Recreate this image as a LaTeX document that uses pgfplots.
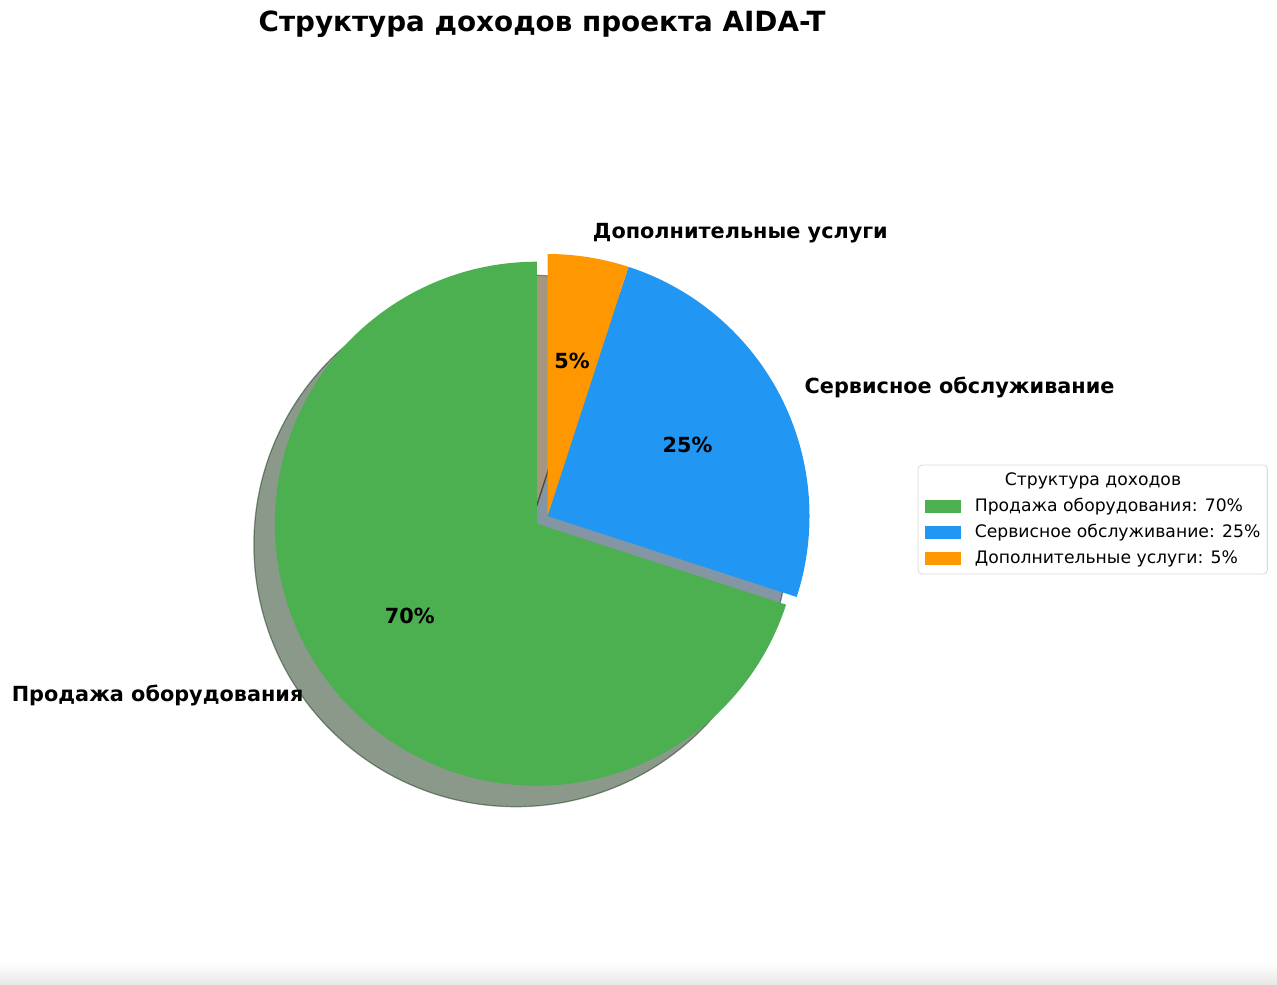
\documentclass[border=0pt]{standalone}
\usepackage{pgfplots}
\pgfplotsset{compat=1.18}
\usepackage{pgfplotstable}
\usepackage{fontspec}
\setmainfont{DejaVu Sans}

\definecolor{cgreen}{HTML}{4CAF50}
\definecolor{cblue}{HTML}{2196F3}
\definecolor{corange}{HTML}{FF9800}
% shadow colours: 0.3 * face colour
\definecolor{sgreen}{RGB}{23,52,24}
\definecolor{sblue}{RGB}{10,45,73}
\definecolor{sorange}{RGB}{76,46,0}

\pgfplotstableread{
value explode
70 0.05
25 0
5 0
}\piedata

\begin{document}
\begin{tikzpicture}
\pgfplotstablegetelem{0}{value}\of\piedata \let\va\pgfplotsretval
\pgfplotstablegetelem{1}{value}\of\piedata \let\vb\pgfplotsretval
\pgfplotstablegetelem{2}{value}\of\piedata \let\vc\pgfplotsretval
\pgfmathsetmacro{\aA}{90}
\pgfmathsetmacro{\aB}{\aA+3.6*\va}
\pgfmathsetmacro{\aC}{\aB+3.6*\vb}
\pgfmathsetmacro{\aD}{\aC+3.6*\vc}
\pgfmathsetmacro{\mA}{(\aA+\aB)/2}
\pgfmathsetmacro{\mB}{(\aB+\aC)/2}
\pgfmathsetmacro{\mC}{(\aC+\aD)/2}
\def\R{131pt}
\begin{axis}[
  scale only axis, width=638.5pt, height=492pt,
  xmin=0, xmax=1277, ymin=0, ymax=984, y dir=reverse,
  hide axis, clip=false,
  legend style={at={(axis cs:918,465)}, anchor=north west,
    draw=black!15, rounded corners=2pt, fill=white, outer sep=0pt,
    font=\fontsize{8.6}{10}\selectfont, row sep=4.9pt, column sep=7pt,
    inner xsep=3.5pt, inner ysep=3.7pt,
    nodes={inner sep=0pt, text height=6.3pt, text depth=1.8pt}},
  legend cell align=left,
]
\path (axis cs:0,0) rectangle (axis cs:1277,984);
% screenshot bottom fade
\shade[top color=white, bottom color=black!9] (axis cs:0,962) rectangle (axis cs:1277,984);

% shadows (offset 21px left, 21px down)
\begin{scope}[shift={(-10.5pt,-10.5pt)}]
  \filldraw[fill=sgreen, draw=sgreen, fill opacity=0.5, draw opacity=0.5, line width=0.6pt]
    ([shift={(\mA:6.55pt)}]axis cs:547.5,516) -- ++(\aA:\R) arc[start angle=\aA, end angle=\aB, radius=\R] -- cycle;
  \filldraw[fill=sblue, draw=sblue, fill opacity=0.5, draw opacity=0.5, line width=0.6pt]
    (axis cs:547.5,516) -- ++(\aB:\R) arc[start angle=\aB, end angle=\aC, radius=\R] -- cycle;
  \filldraw[fill=sorange, draw=sorange, fill opacity=0.5, draw opacity=0.5, line width=0.6pt]
    (axis cs:547.5,516) -- ++(\aC:\R) arc[start angle=\aC, end angle=\aD, radius=\R] -- cycle;
\end{scope}

% wedges
\fill[cgreen] ([shift={(\mA:6.55pt)}]axis cs:547.5,516) -- ++(\aA:\R) arc[start angle=\aA, end angle=\aB, radius=\R] -- cycle;
\fill[cblue] (axis cs:547.5,516) -- ++(\aB:\R) arc[start angle=\aB, end angle=\aC, radius=\R] -- cycle;
\fill[corange] (axis cs:547.5,516) -- ++(\aC:\R) arc[start angle=\aC, end angle=\aD, radius=\R] -- cycle;

% outer labels
\begin{scope}[font=\fontsize{10.4}{12}\bfseries]
\node[anchor=east, inner sep=0pt, yshift=-1pt] at ([shift={(\mA:150.65pt)}]axis cs:547.5,516) {Продажа оборудования};
\node[anchor=west, inner sep=0pt, yshift=-1pt] at ([shift={(\mB:144.1pt)}]axis cs:547.5,516) {Сервисное обслуживание};
\node[anchor=west, inner sep=0pt, yshift=-1pt] at ([shift={(\mC:144.1pt)}]axis cs:547.5,516) {Дополнительные услуги};
% percentages
\node[inner sep=0pt] at ([shift={(\mA:85.15pt)}]axis cs:547.5,516) {70\%};
\node[inner sep=0pt] at ([shift={(\mB:78.6pt)}]axis cs:547.5,516) {25\%};
\node[inner sep=0pt] at ([shift={(\mC:78.6pt)}]axis cs:547.5,516) {5\%};
\end{scope}

% title
\node[font=\fontsize{13.9}{16}\bfseries] at (axis cs:542,24) {Структура доходов проекта AIDA-T};

% legend
\addlegendimage{empty legend}
\addlegendentry{\hspace{15pt}Структура доходов}
\addlegendimage{legend image code/.code={\fill[cgreen, sharp corners] (0pt,-3pt) rectangle (17.5pt,3pt);}}
\addlegendentry{Продажа оборудования: 70\%}
\addlegendimage{legend image code/.code={\fill[cblue, sharp corners] (0pt,-3pt) rectangle (17.5pt,3pt);}}
\addlegendentry{Сервисное обслуживание: 25\%}
\addlegendimage{legend image code/.code={\fill[corange, sharp corners] (0pt,-3pt) rectangle (17.5pt,3pt);}}
\addlegendentry{Дополнительные услуги: 5\%}
\end{axis}
\end{tikzpicture}
\end{document}
